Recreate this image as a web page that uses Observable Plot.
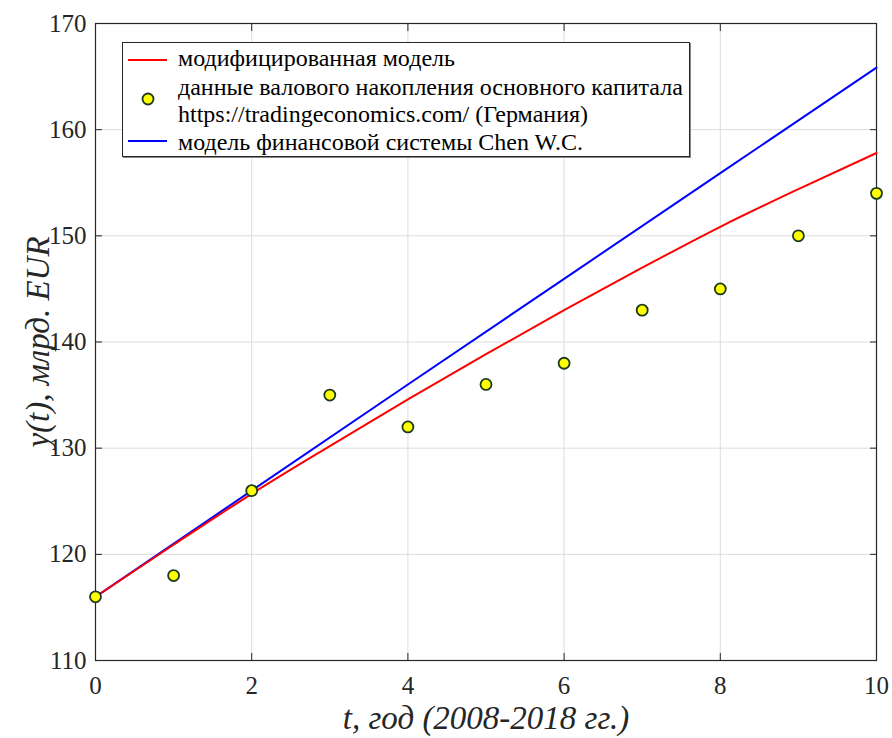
<!DOCTYPE html>
<html>
<head>
<meta charset="utf-8">
<script src="https://cdn.jsdelivr.net/npm/d3@7"></script>
<script src="https://cdn.jsdelivr.net/npm/@observablehq/plot@0.6"></script>
<style>
  body { margin: 0; background: #fff; }
  #wrap { position: relative; width: 892px; height: 738px; font-family: "Liberation Serif", serif; }
  #wrap svg, #wrap svg text { font-family: "Liberation Serif", serif !important; }
  #legend { position: absolute; left: 122px; top: 42px; width: 566px; height: 113px; border: 1px solid #262626; background: #fff; font-size: 24px; color: #000; box-shadow: 1px 1px 0 #888; }
  #legend .row { position: absolute; left: 55px; height: 28px; line-height: 28px; white-space: nowrap; }
  #legend svg { position: absolute; left: 0; top: 0; }
</style>
</head>
<body>
<div id="wrap"></div>
<script>
// ---- data ----
const tYears = [0, 1, 2, 3, 4, 5, 6, 7, 8, 9, 10];
const observed = [116, 118, 126, 135, 132, 136, 138, 143, 145, 150, 154];

const modT = [0, 1, 2, 3, 4, 5, 6, 7, 8, 9, 10];
const modifiedModel = [116, 120.9, 125.7, 130.2, 134.6, 138.85, 143.0, 147.0, 150.85, 154.4, 157.8];

const chenT = [0, 2, 4, 6, 8, 10];
const chenModel = [116, 126.0, 136.0, 145.95, 155.9, 165.85];

const xTicks = [0, 2, 4, 6, 8, 10];
const yTicks = [110, 120, 130, 140, 150, 160, 170];

const xLabel = "t, год (2008-2018 гг.)";
const yLabel = "y(t), млрд. EUR";

const legendLabels = [
  "модифицированная модель",
  "данные валового накопления основного капитала",
  "https://tradingeconomics.com/ (Германия)",
  "модель финансовой системы Chen W.C."
];

const obsData = tYears.map((t, i) => ({t, y: observed[i]}));
const modData = modT.map((t, i) => ({t, y: modifiedModel[i]}));
const chenData = chenT.map((t, i) => ({t, y: chenModel[i]}));

const axisColor = "#262626";
const fontFam = "Liberation Serif";

const chart = Plot.plot({
  width: 892,
  height: 738,
  marginLeft: 95,
  marginRight: 16,
  marginTop: 23,
  marginBottom: 78,
  style: {fontFamily: "'Liberation Serif', serif", fontSize: "25px", background: "#fff", color: "#000"},
  x: {domain: [0, 10]},
  y: {domain: [110, 170]},
  marks: [
    Plot.gridX(xTicks, {stroke: "#dcdcdc", strokeOpacity: 1, strokeWidth: 1}),
    Plot.gridY(yTicks, {stroke: "#dcdcdc", strokeOpacity: 1, strokeWidth: 1}),
    // labels
    Plot.axisX(xTicks, {anchor: "bottom", tickSize: 0, tickPadding: 16, label: null, fontSize: 25, fontFamily: fontFam, fill: axisColor}),
    Plot.axisY(yTicks, {anchor: "left", tickSize: 0, tickPadding: 9, label: null, fontSize: 25, fontFamily: fontFam, fill: axisColor}),
    // inward ticks
    Plot.axisX(xTicks, {anchor: "bottom", tickSize: -7, tickFormat: () => "", label: null, stroke: axisColor}),
    Plot.axisX(xTicks, {anchor: "top", tickSize: -7, tickFormat: () => "", label: null, stroke: axisColor}),
    Plot.axisY(yTicks, {anchor: "left", tickSize: -7, tickFormat: () => "", label: null, stroke: axisColor}),
    Plot.axisY(yTicks, {anchor: "right", tickSize: -7, tickFormat: () => "", label: null, stroke: axisColor}),
    Plot.frame({stroke: axisColor, strokeWidth: 1.2}),
    Plot.line(chenData, {x: "t", y: "y", stroke: "#0000ff", strokeWidth: 2}),
    Plot.line(modData, {x: "t", y: "y", stroke: "#ff0000", strokeWidth: 2, curve: "monotone-x"}),
    Plot.dot(obsData, {x: "t", y: "y", r: 5.5, fill: "#ffff00", stroke: "#1b3a1b", strokeWidth: 1.8}),
    Plot.text([xLabel], {frameAnchor: "bottom", textAnchor: "middle", lineAnchor: "middle", dy: 58, fontSize: 33, fontStyle: "italic", fontFamily: fontFam, fill: axisColor}),
    Plot.text([yLabel], {frameAnchor: "left", textAnchor: "middle", lineAnchor: "middle", dx: -57, rotate: -90, fontSize: 33, fontStyle: "italic", fontFamily: fontFam, fill: axisColor})
  ]
});

const wrap = document.getElementById("wrap");
wrap.appendChild(chart);

// legend overlay
const legend = document.createElement("div");
legend.id = "legend";
const rowTops = [1, 30, 57, 85];
legendLabels.forEach((txt, i) => {
  const r = document.createElement("div");
  r.className = "row";
  r.style.top = rowTops[i] + "px";
  r.textContent = txt;
  legend.appendChild(r);
});
const ns = "http://www.w3.org/2000/svg";
const sw = document.createElementNS(ns, "svg");
sw.setAttribute("width", 60);
sw.setAttribute("height", 113);
const mk = (tag, attrs) => { const e = document.createElementNS(ns, tag); for (const k in attrs) e.setAttribute(k, attrs[k]); sw.appendChild(e); };
mk("line", {x1: 5, x2: 44, y1: 17, y2: 17, stroke: "#ff0000", "stroke-width": 2});
mk("circle", {cx: 25, cy: 56, r: 5.5, fill: "#ffff00", stroke: "#1b3a1b", "stroke-width": 1.8});
mk("line", {x1: 5, x2: 44, y1: 98, y2: 98, stroke: "#0000ff", "stroke-width": 2});
legend.appendChild(sw);
wrap.appendChild(legend);
</script>
</body>
</html>
